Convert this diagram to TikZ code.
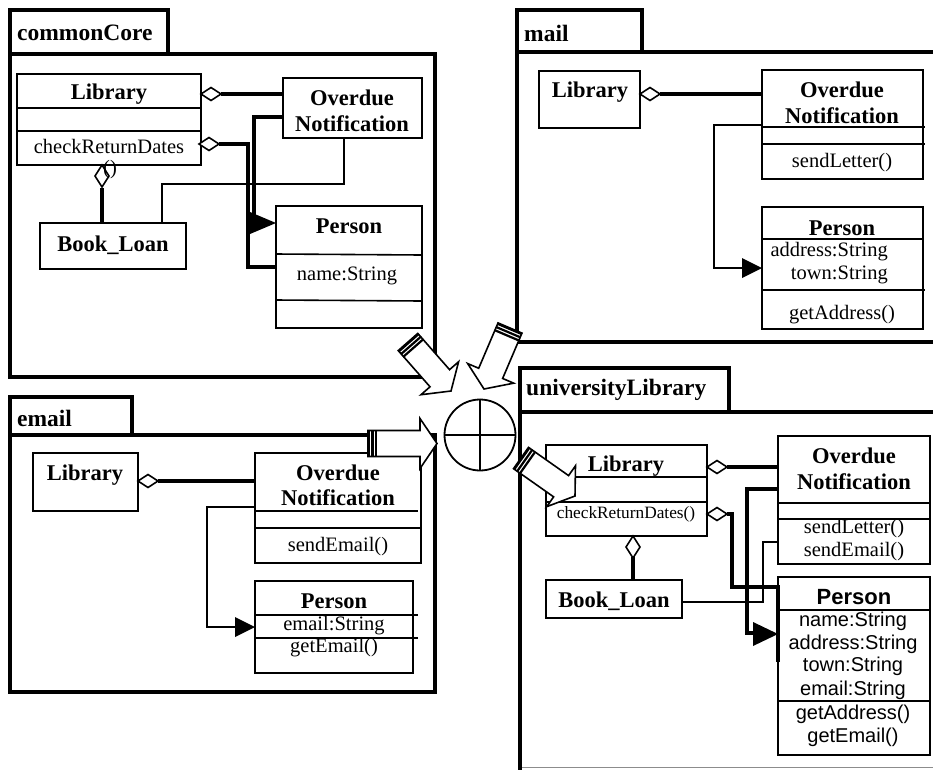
\documentclass[tikz,border=0pt]{standalone}
\usepackage{fontspec}
\setmainfont{Liberation Serif}
\setsansfont{Liberation Sans}
\usetikzlibrary{calc}

% Hollow block arrow with a striped tail: #1 = tail centre, #2 = tip
\newcommand\mergearrow[2]{%
  \coordinate (ma-t) at (#1);
  \coordinate (ma-p) at (#2);
  \coordinate (ma-h) at ($(ma-p)!17pt!(ma-t)$);
  \filldraw[fill=white, line width=1.6pt, line join=miter]
    ($(ma-t)!13pt!90:(ma-p)$) -- ($(ma-h)!13pt!90:(ma-p)$)
    -- ($(ma-h)!25pt!90:(ma-p)$) -- (ma-p)
    -- ($(ma-h)!25pt!-90:(ma-p)$) -- ($(ma-h)!13pt!-90:(ma-p)$)
    -- ($(ma-t)!13pt!-90:(ma-p)$) -- cycle;
  \foreach \off in {1,4.5,8}{%
    \coordinate (ma-s) at ($(ma-t)!\off pt!(ma-p)$);
    \draw[line width=2.2pt] ($(ma-s)!13.5pt!90:(ma-p)$) -- ($(ma-s)!13.5pt!-90:(ma-p)$);
  }%
}

\begin{document}
\begin{tikzpicture}[x=1pt, y=-1pt,
  pkg/.style={line width=3.5pt, line join=miter},
  box/.style={draw, line width=1.8pt, fill=white, inner sep=0pt, outer sep=0pt, anchor=north west},
  divider/.style={line width=1.6pt},
  cname/.style={font=\fontsize{22.5}{26}\selectfont\bfseries, inner sep=0pt},
  pname/.style={font=\fontsize{23.5}{27}\selectfont\bfseries, inner sep=0pt, anchor=west},
  member/.style={font=\fontsize{20.5}{23}\selectfont, inner sep=0pt},
  smember/.style={font=\fontsize{17.3}{20}\selectfont, inner sep=0pt},
  sname/.style={font=\sffamily\bfseries\fontsize{22}{25}\selectfont, inner sep=0pt},
  smem/.style={font=\sffamily\fontsize{20}{23}\selectfont, inner sep=0pt},
  assoc/.style={line width=3.6pt, line join=miter},
  link/.style={line width=1.5pt},
  hdiam/.pic={\draw[line width=1.6pt, fill=white, line join=miter] (0,0) -- (10,-6.5) -- (20,0) -- (10,6.5) -- cycle;},
  vdiam/.pic={\draw[line width=1.6pt, fill=white, line join=miter] (0,0) -- (-7,11) -- (0,22) -- (7,11) -- cycle;},
]
\useasboundingbox (0,0) rectangle (933,769);
\fill[white] (0,0) rectangle (933,769);

% ---------------- packages ----------------
\draw[pkg] (10,54) rectangle (435,377);
\draw[pkg] (10,10) rectangle (168,54);
\node[pname] (ccName) at (17,33) {commonCore};

\draw[pkg] (945,52) -- (517,52) -- (517,342) -- (945,342);
\draw[pkg] (517,10) rectangle (642,52);
\node[pname] (mName) at (524,33) {mail};

\draw[pkg] (10,435) rectangle (435,692);
\draw[pkg] (10,397) rectangle (132,435);
\node[pname] (eName) at (17,418) {email};

\draw[line width=1pt, black!45] (520,767) -- (933,767);
\draw[pkg] (945,412) -- (520,412) -- (520,780);
\draw[pkg] (520,368) rectangle (729,412);
\node[pname] (uName) at (526,390) {universityLibrary};

% ---------------- commonCore ----------------
\node[box, minimum width=184pt, minimum height=91pt] (ccLib) at (17,74) {};
\node[cname] (ccLibT) at (109,94) {Library};
\draw[divider] (17,108) -- (201,108);
\draw[divider] (17,131) -- (201,131);
\node[member] (ccLibOp) at (109,146) {checkReturnDates};

\node[box, minimum width=139pt, minimum height=60pt] (ccOver) at (283,78) {};
\node[cname] (ccOverT1) at (352,98) {Overdue};
\node[cname] (ccOverT2) at (352,124) {Notification};

\node[box, minimum width=146pt, minimum height=46pt] (ccBook) at (40,223) {};
\node[cname] (ccBookT) at (113,245) {Book\_Loan};

\node[box, minimum width=146pt, minimum height=122pt] (ccPers) at (276,206) {};
\node[cname] (ccPersT) at (349,226) {Person};
\draw[divider] (276,254) -- (422,255);
\node[member] (ccPersA) at (347,276) {name:String};
\draw[divider] (276,300) -- (422,301);

\draw[assoc] (221,94) -- (ccOver.west |- 0,94);
\pic at (ccLib.east |- 0,94) {hdiam};
\draw[assoc] (219,144) -| (248,267) -- (ccPers.west |- 0,267);
\pic at (199,144) {hdiam};
\draw[assoc] (ccOver.west |- 0,117) -| (254,223) -- (251,223);
\fill (250,212) -- (ccPers.west |- 0,223) -- (250,234) -- cycle;
\draw[link] (ccBook.north -| 162,0) |- (344,184) -- (ccOver.south -| 344,0);
\draw[assoc] (102,188) -- (ccBook.north -| 102,0);
\pic at (ccLib.south -| 102,0) {vdiam};
\node[member] (ccLibOp2) at (110,170) {()};

% ---------------- mail ----------------
\node[box, minimum width=101pt, minimum height=57pt] (mLib) at (539,71) {};
\node[cname] (mLibT) at (590,92) {Library};

\node[box, minimum width=161pt, minimum height=109pt] (mOver) at (762,70) {};
\node[cname] (mOverT1) at (842,90) {Overdue};
\node[cname] (mOverT2) at (842,116) {Notification};
\draw[divider] (762,127) -- (925,127);
\draw[divider] (762,144) -- (925,144);
\node[member] (mOverOp) at (842,163) {sendLetter()};

\node[box, minimum width=161pt, minimum height=122pt] (mPers) at (762,207) {};
\node[cname] (mPersT) at (842,228) {Person};
\draw[divider] (762,239) -- (923,239);
\node[member, anchor=east] (mPersA1) at (888,252) {address:String};
\node[member, anchor=east] (mPersA2) at (888,275) {town:String};
\draw[divider] (762,290) -- (925,290);
\node[member] (mPersOp) at (842,315) {getAddress()};

\draw[assoc] (660,94) -- (mOver.west |- 0,94);
\pic at (mLib.east |- 0,94) {hdiam};
\draw[link] (mOver.west |- 0,125) -| (714,268) -- (742,268);
\fill (742,258) -- (mPers.west |- 0,268) -- (742,278) -- cycle;

% ---------------- email ----------------
\node[box, minimum width=105pt, minimum height=58pt] (eLib) at (33,453) {};
\node[cname] (eLibT) at (85,475) {Library};

\node[box, minimum width=166pt, minimum height=110pt] (eOver) at (255,453) {};
\node[cname] (eOverT1) at (338,473) {Overdue};
\node[cname] (eOverT2) at (338,498) {Notification};
\draw[divider] (255,511) -- (418,511);
\draw[divider] (255,528) -- (421,528);
\node[member] (eOverOp) at (338,547) {sendEmail()};

\node[box, minimum width=158pt, minimum height=92pt] (ePers) at (255,581) {};
\node[cname] (ePersT) at (334,601) {Person};
\draw[divider] (255,615) -- (418,615);
\node[member] (ePersA) at (334,626) {email:String};
\draw[divider] (255,638) -- (418,638);
\node[member] (ePersOp) at (334,648) {getEmail()};

\draw[assoc] (158,481) -- (eOver.west |- 0,481);
\pic at (eLib.east |- 0,481) {hdiam};
\draw[link] (eOver.west |- 0,507) -| (207,627) -- (235,627);
\fill (235,617) -- (ePers.west |- 0,627) -- (235,637) -- cycle;

% ---------------- universityLibrary ----------------
\node[box, minimum width=161pt, minimum height=91pt] (uLib) at (546,445) {};
\node[cname] (uLibT) at (626,466) {Library};
\draw[divider] (546,477) -- (707,477);
\draw[divider] (546,502) -- (707,502);
\node[smember] (uLibOp) at (626,514) {checkReturnDates()};

\node[box, minimum width=152pt, minimum height=128pt] (uOver) at (778,436) {};
\node[cname] (uOverT1) at (854,456) {Overdue};
\node[cname] (uOverT2) at (854,482) {Notification};
\draw[divider] (778,503) -- (930,503);
\draw[divider] (778,519) -- (930,519);
\node[member] (uOverOp1) at (854,529) {sendLetter()};
\node[member] (uOverOp2) at (854,552) {sendEmail()};

\node[box, minimum width=136pt, minimum height=38pt] (uBook) at (546,580) {};
\node[cname] (uBookT) at (614,601) {Book\_Loan};

\node[box, minimum width=152pt, minimum height=178pt] (uPers) at (778,577) {};
\node[sname] (uPersT) at (854,597) {Person};
\draw[divider] (778,610) -- (930,610);
\node[smem] (uPersA1) at (853,621) {name:String};
\node[smem] (uPersA2) at (853,644) {address:String};
\node[smem] (uPersA3) at (853,666) {town:String};
\node[smem] (uPersA4) at (853,690) {email:String};
\draw[divider] (778,701) -- (930,701);
\node[smem] (uPersOp1) at (853,714) {getAddress()};
\node[smem] (uPersOp2) at (853,737) {getEmail()};

\draw[assoc] (727,467) -- (uOver.west |- 0,467);
\pic at (uLib.east |- 0,467) {hdiam};
\draw[assoc] (727,514) -- (732,514) -- (732,587) -- (uPers.west |- 0,587) -- (uPers.west |- 0,662);
\pic at (uLib.east |- 0,514) {hdiam};
\draw[assoc] (uOver.west |- 0,489) -| (747,633) -- (753,633);
\fill (753,622) -- (uPers.west |- 0,634) -- (753,646) -- cycle;
\draw[assoc] (633,557) -- (uBook.north -| 633,0);
\pic at (uLib.south -| 633,0) {vdiam};
\draw[link] (uBook.east |- 0,602) -| (763,542) -- (uOver.west |- 0,542);

% ---------------- merge symbol and block arrows ----------------
\node[circle, draw, line width=1.8pt, minimum size=71pt, inner sep=0pt] (merge) at (480,435) {};
\draw[line width=1.8pt] (merge.north) -- (merge.south);
\draw[line width=1.8pt] (merge.west) -- (merge.east);

\coordinate (ccOut) at (408,342);
\coordinate (ccIn) at (451,391);
\coordinate (mOut) at (510,328);
\coordinate (mIn) at (484,389);
\coordinate (eOut) at (368,443.5);
\coordinate (eIn) at (437,443.5);
\coordinate (uOut) at (521,458);
\coordinate (uIn) at (575,496);

\mergearrow{ccOut}{ccIn}
\mergearrow{mOut}{mIn}
\mergearrow{eOut}{eIn}
\mergearrow{uOut}{uIn}
\end{tikzpicture}
\end{document}
